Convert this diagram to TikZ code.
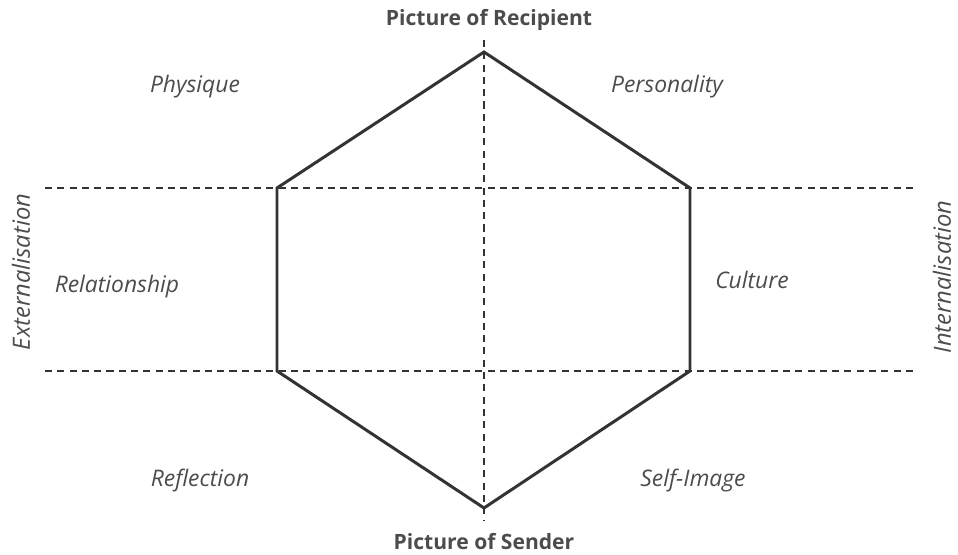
\documentclass[tikz,border=0pt]{standalone}
\usepackage{fontspec}
\setmainfont{Open Sans}
\usepackage{tikz}
\usetikzlibrary{positioning,calc}

\begin{document}
\begin{tikzpicture}[x=0.02cm,y=0.02cm,semithick]
\tikzstyle{axis}=[draw=black!80,line width=0.8pt,dash pattern=on 4pt off 3pt]
  \tikzstyle{side}=[draw=black!80,line width=1.7pt,line join=miter]
  \tikzstyle{pole}=[font=\bfseries\fontsize{12}{14}\selectfont,text=black!70]
  \tikzstyle{facet}=[font=\itshape\fontsize{13}{15}\selectfont,text=black!70]
  \tikzstyle{flank}=[font=\itshape\fontsize{13.5}{15}\selectfont,text=black!70,rotate=90,inner sep=1pt]
%
\useasboundingbox (0,0) rectangle (958,555);
%
\coordinate (top) at (484,503);
  \coordinate (ul) at (277,367);
  \coordinate (ur) at (690,367);
  \coordinate (ll) at (277,184);
  \coordinate (lr) at (690,184);
  \coordinate (bot) at (484,47);
%
\coordinate (vtop) at (484,515);
  \coordinate (vbot) at (484,35);
  \coordinate (hul) at (45,367);
  \coordinate (hur) at (915,367);
  \coordinate (hll) at (45,184);
  \coordinate (hlr) at (915,184);
%
\path[axis] (vtop) edge (vbot);
  \path[axis] (hul) edge (hur);
  \path[axis] (hll) edge (hlr);
  \draw[side] (top) -- (ur) -- (lr) -- (bot) -- (ll) -- (ul) -- cycle;
%
\node[pole] (recipient) at (489,535) {Picture of Recipient};
  \node[pole] (sender) at (484,13) {Picture of Sender};
  \node[facet] (physique) at (195,468) {Physique};
  \node[facet] (personality) at (667,468) {Personality};
  \node[facet] (relationship) at (117,268) {Relationship};
  \node[facet] (culture) at (752,275) {Culture};
  \node[facet] (reflection) at (200,74) {Reflection};
  \node[facet] (selfimage) at (693,74) {Self-Image};
  \node[flank] (extern) at (21,283) {Externalisation};
  \node[flank] (intern) at (942,278) {Internalisation};
\end{tikzpicture}
\end{document}
